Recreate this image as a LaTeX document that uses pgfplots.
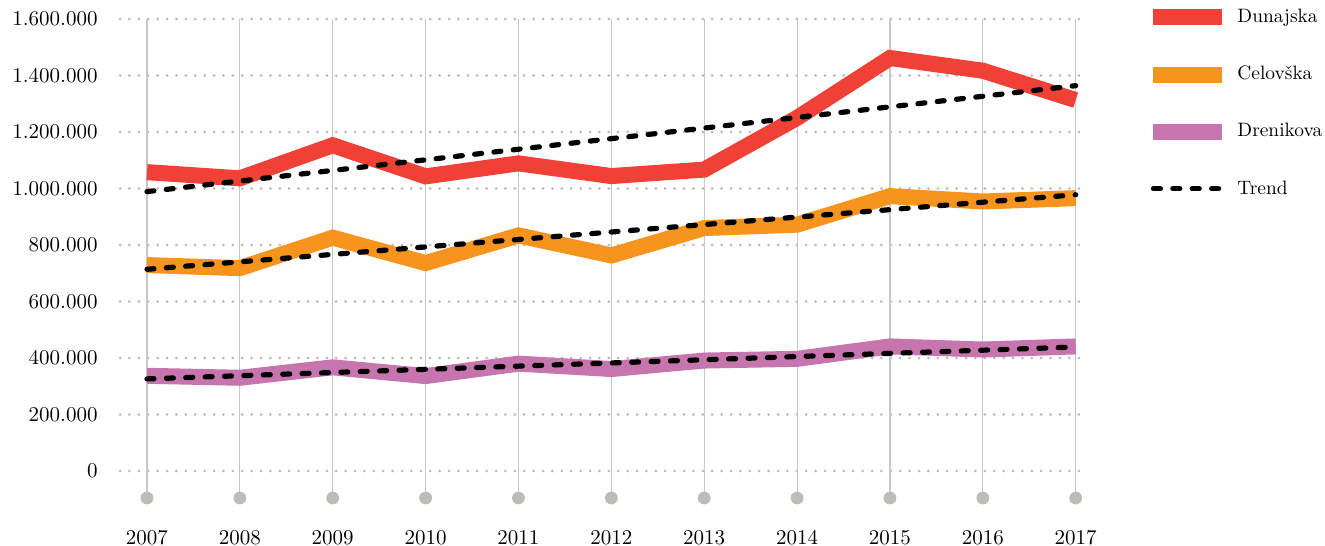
\documentclass[border=0pt]{standalone}
\usepackage{pgfplots}
\pgfplotsset{compat=1.18}
\definecolor{cRed}{HTML}{EF4136}
\definecolor{cOrange}{HTML}{F7941D}
\definecolor{cPurple}{HTML}{C775AF}
\definecolor{cDot}{HTML}{BDBDB8}
\definecolor{cVline}{HTML}{C8C8C8}
\definecolor{cGrid}{HTML}{BBBBBB}
\begin{document}
\begin{tikzpicture}
\begin{axis}[
  scale only axis,
  width=482.5pt, height=239.5pt,
  xmin=2006.71, xmax=2017.1,
  ymin=-95600, ymax=1600000,
  clip=false,
  axis line style={draw=none},
  tick style={draw=none},
  xtick={2007,...,2017},
  xticklabel style={yshift=-12.5pt, /pgf/number format/1000 sep={}},
  ytick={0,200000,...,1600000},
  yticklabel style={xshift=-7.7pt, /pgf/number format/fixed, /pgf/number format/precision=0, /pgf/number format/1000 sep={.}},
  scaled y ticks=false,
  /pgf/number format/assume math mode=true,
  ticklabel style={font=\fontsize{10.5}{12}\selectfont},
  ymajorgrids=true,
  grid style={draw=cGrid, line width=1.5pt, line cap=round, dash pattern=on 0pt off 4.7pt},
  unbounded coords=jump,
  legend style={at={(rel axis cs:1.0622,1.036)}, anchor=north west, draw=none, fill=none,
    row sep=13.3pt, font=\fontsize{9.7}{11.6}\selectfont, inner sep=0pt,
    nodes={inner sep=3.5pt}},
  legend cell align=left,
  legend image code/.code={\draw[#1] (0pt,0pt) -- (34.5pt,0pt);},
]
% vertical year lines
\addplot[forget plot, draw=cVline, line width=0.6pt] coordinates {
 (2007,-95600) (2007,1600000) (2007,nan)
 (2008,-95600) (2008,1600000) (2008,nan)
 (2009,-95600) (2009,1600000) (2009,nan)
 (2010,-95600) (2010,1600000) (2010,nan)
 (2011,-95600) (2011,1600000) (2011,nan)
 (2012,-95600) (2012,1600000) (2012,nan)
 (2013,-95600) (2013,1600000) (2013,nan)
 (2014,-95600) (2014,1600000) (2014,nan)
 (2015,-95600) (2015,1600000) (2015,nan)
 (2016,-95600) (2016,1600000) (2016,nan)
 (2017,-95600) (2017,1600000)
};
\addplot[forget plot, only marks, mark=*, mark size=3pt, color=cDot] coordinates {
 (2007,-95600) (2008,-95600) (2009,-95600) (2010,-95600) (2011,-95600) (2012,-95600)
 (2013,-95600) (2014,-95600) (2015,-95600) (2016,-95600) (2017,-95600)
};
\addplot[cRed, line width=8pt, line join=miter] coordinates {
 (2007,1058000) (2008,1036000) (2009,1153000) (2010,1043000) (2011,1089000) (2012,1044000)
 (2013,1067000) (2014,1250000) (2015,1462000) (2016,1417000) (2017,1313000)
};
\addlegendentry{Dunajska}
\addplot[cOrange, line width=8pt, line join=miter] coordinates {
 (2007,729000) (2008,718000) (2009,826000) (2010,736000) (2011,834000) (2012,763000)
 (2013,860000) (2014,872000) (2015,973000) (2016,954000) (2017,966000)
};
\addlegendentry{Celovška}
\addplot[cPurple, line width=8pt, line join=miter] coordinates {
 (2007,337000) (2008,330000) (2009,367000) (2010,336000) (2011,380000) (2012,361000)
 (2013,391000) (2014,397000) (2015,441000) (2016,430000) (2017,441000)
};
\addlegendentry{Drenikova}
\addplot[black, line width=2.6pt, line cap=round, dash pattern=on 3.5pt off 6.2pt] coordinates {
 (2007,989000) (2017,1364000)
};
\addlegendentry{Trend}
\addplot[forget plot, black, line width=2.6pt, line cap=round, dash pattern=on 3.5pt off 6.2pt] coordinates {
 (2007,714000) (2017,978000)
};
\addplot[forget plot, black, line width=2.6pt, line cap=round, dash pattern=on 3.5pt off 6.2pt] coordinates {
 (2007,326000) (2017,439000)
};
\coordinate (bl) at (rel axis cs:-0.1244,-0.1002);
\coordinate (tr) at (rel axis cs:1.2487,1.0397);
\end{axis}
\pgfresetboundingbox
\path[use as bounding box] (bl) rectangle (tr);
\end{tikzpicture}
\end{document}
